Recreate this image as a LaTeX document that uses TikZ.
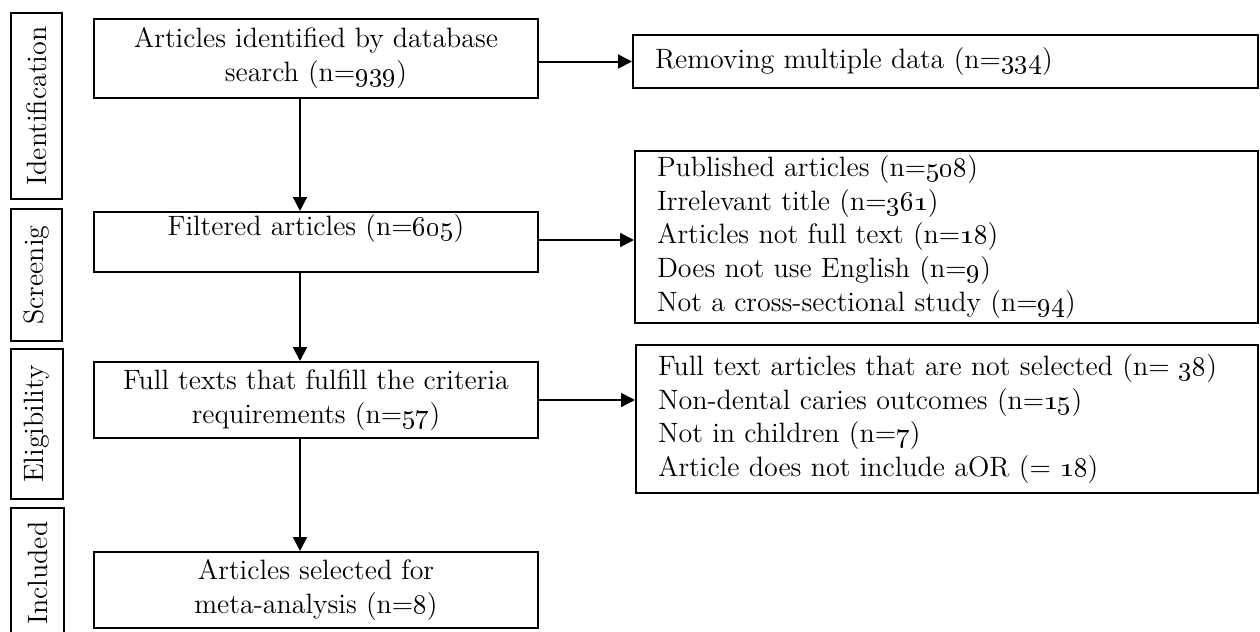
\documentclass[tikz,border=0pt]{standalone}
\usepackage{fix-cm}
\usetikzlibrary{calc}
\usetikzlibrary{arrows.meta}

\newcommand{\nn}[1]{\oldstylenums{#1}}

\tikzset{
    box/.style={draw, line width=1pt, align=center, inner sep=0pt,
        font=\fontsize{14}{17}\selectfont},
    listbox/.style={draw, line width=1pt, align=left, inner xsep=11pt, inner ysep=0pt,
        font=\fontsize{14}{16.8}\selectfont},
    phase/.style={draw, line width=1pt, rotate=90, inner sep=0pt,
        font=\fontsize{14}{17}\selectfont},
    flow/.style={line width=1pt, -{Triangle[length=7pt,width=7pt]}}
}

\begin{document}
\begin{tikzpicture}[x=0.5pt,y=-0.5pt]
    \useasboundingbox (0,0) rectangle (1260,632);
    % Phase labels on the left
    \node[phase, minimum width=93pt, minimum height=25.5pt] (pid) at (36.5,106) {Identification};
    \node[phase, minimum width=66pt, minimum height=25.5pt] (pscr) at (36.5,275) {Screenig};
    \node[phase, minimum width=75pt, minimum height=26pt] (pel) at (37,424) {Eligibility};
    \node[phase, minimum width=65pt, minimum height=26.5pt] (pinc) at (37.5,573) {Included};
    % Main column
    \node[box, minimum width=222pt, minimum height=39.5pt] (ident) at (316,58.5)
        {Articles identified by database\\search (n=\nn{939})};
    \node[box, minimum width=222pt, minimum height=30pt] (filt) at (316,242)
        {Filtered articles (n=\nn{605})\\\mbox{}};
    \node[box, minimum width=222pt, minimum height=38pt] (full) at (316,400)
        {Full texts that fulfill the criteria\\requirements (n=\nn{57})};
    \node[box, minimum width=222pt, minimum height=38pt] (incl) at (316,590)
        {Articles selected for\\meta-analysis (n=\nn{8})};
    % Excluded records on the right
    \node[listbox, text width=290.5pt, minimum height=26.5pt] (rem) at (945.5,61.5)
        {\raisebox{3pt}{Removing multiple data (n=\nn{334})}};
    \node[listbox, text width=289.5pt, minimum height=86pt] (scr) at (946.5,237)
        {Published articles (n=\nn{508})\\
         Irrelevant title (n=\nn{361})\\
         Articles not full text (n=\nn{18})\\
         Does not use English (n=\nn{9})\\
         Not a cross-sectional study (n=\nn{94})};
    \node[listbox, text width=289pt, minimum height=74pt] (elig) at (947,419)
        {Full text articles that are not selected (n= \nn{38})\\
         Non-dental caries outcomes (n=\nn{15})\\
         Not in children (n=\nn{7})\\
         Article does not include aOR (= \nn{18})};
    % Arrows down the main column
    \draw[flow] ([xshift=-8pt]ident.south) -- ([xshift=-8pt]filt.north);
    \draw[flow] ([xshift=-8pt]filt.south) -- ([xshift=-8pt]full.north);
    \draw[flow] ([xshift=-8pt]full.south) -- ([xshift=-8pt]incl.north);
    % Arrows to the right
    \draw[flow] ([yshift=-1.5pt]ident.east) -- ([yshift=-1.5pt]ident.east -| rem.west);
    \draw[flow] ([yshift=1pt]filt.east) -- ([yshift=1pt]filt.east -| scr.west);
    \draw[flow] (full.east) -- (full.east -| elig.west);
\end{tikzpicture}
\end{document}
